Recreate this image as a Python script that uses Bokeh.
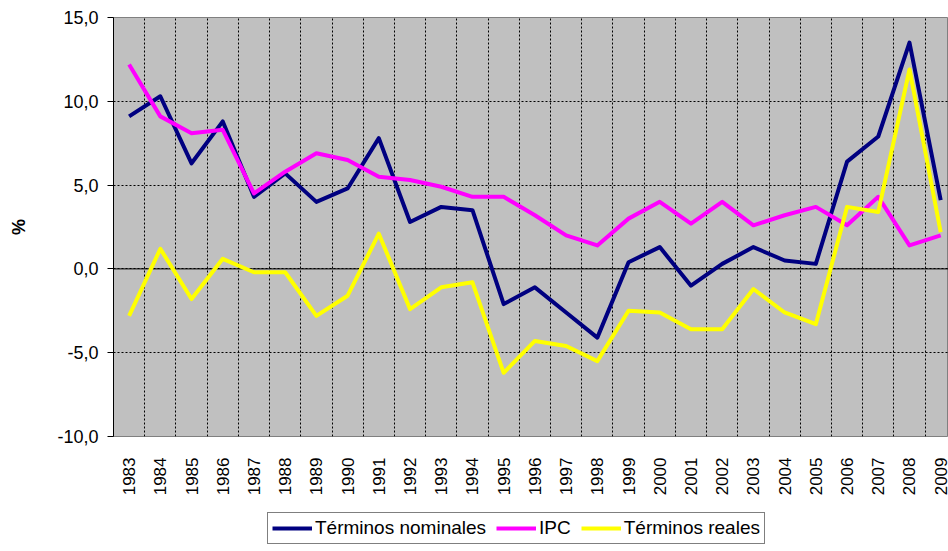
import math
from bokeh.plotting import figure
from bokeh.layouts import column
from bokeh.models import (Range1d, FixedTicker, Span, Legend, LegendItem)
from bokeh.embed import file_html
from bokeh.resources import INLINE

# ---- data ----
years = list(range(1983, 2010))
nominales = [9.1, 10.3, 6.3, 8.8, 4.3, 5.7, 4.0, 4.8, 7.8, 2.8, 3.7, 3.5, -2.1,
             -1.1, -2.6, -4.1, 0.4, 1.3, -1.0, 0.3, 1.3, 0.5, 0.3, 6.4, 7.9, 13.5, 4.1]
ipc = [12.2, 9.1, 8.1, 8.3, 4.5, 5.8, 6.9, 6.5, 5.5, 5.3, 4.9, 4.3, 4.3,
       3.2, 2.0, 1.4, 3.0, 4.0, 2.7, 4.0, 2.6, 3.2, 3.7, 2.6, 4.3, 1.4, 2.0]
reales = [-2.8, 1.2, -1.8, 0.6, -0.2, -0.2, -2.8, -1.6, 2.1, -2.4, -1.1, -0.8, -6.2,
          -4.3, -4.6, -5.5, -2.5, -2.6, -3.6, -3.6, -1.2, -2.6, -3.3, 3.7, 3.4, 11.9, 2.2]
series_names = ["Términos nominales", "IPC", "Términos reales"]
y_ticks = [-10, -5, 0, 5, 10, 15]
y_tick_labels = ["-10,0", "-5,0", "0,0", "5,0", "10,0", "15,0"]
y_title = "%"

FONT = "Liberation Sans"
colors = ["#000080", "#FF00FF", "#FFFF00"]
series = [nominales, ipc, reales]

xr = Range1d(years[0] - 0.5, years[0] - 0.5 + 26.75)
yr = Range1d(y_ticks[0], y_ticks[-1])

p = figure(width=948, height=506, output_backend="svg", toolbar_location=None,
           x_range=xr, y_range=yr,
           min_border_left=113, min_border_right=0, min_border_top=17,
           min_border_bottom=70)

p.background_fill_color = "#C0C0C0"
p.border_fill_color = "white"
p.outline_line_color = "#808080"
p.outline_line_width = 1

# grids
p.xgrid.ticker = FixedTicker(ticks=[y + 0.5 for y in years[:-1]])
p.xgrid.grid_line_color = "black"
p.xgrid.grid_line_dash = "2 2"
p.xgrid.grid_line_width = 1
p.ygrid.ticker = FixedTicker(ticks=y_ticks)
p.ygrid.grid_line_color = "black"
p.ygrid.grid_line_dash = "2 2"
p.ygrid.grid_line_width = 1

zero = Span(location=0, dimension="width", line_color="black", line_width=1,
            level="underlay")
p.add_layout(zero)

# y axis
yax = p.yaxis[0]
yax.ticker = FixedTicker(ticks=y_ticks)
yax.major_label_overrides = {t: l for t, l in zip(y_ticks, y_tick_labels)}
yax.axis_line_color = "black"
yax.major_tick_line_color = "black"
yax.major_tick_out = 6
yax.major_tick_in = 0
yax.minor_tick_line_color = None
yax.major_label_standoff = 9
yax.major_label_text_font = FONT
yax.major_label_text_font_size = "18px"
yax.major_label_text_color = "black"
yax.axis_label = y_title
yax.axis_label_text_font = FONT
yax.axis_label_text_font_size = "18px"
yax.axis_label_text_font_style = "bold"
yax.axis_label_text_color = "black"
yax.axis_label_standoff = 25

# x axis
xax = p.xaxis[0]
xax.ticker = FixedTicker(ticks=years)
xax.major_label_overrides = {y: str(y) for y in years}
xax.major_label_orientation = math.pi / 2
xax.axis_line_color = None
xax.major_tick_line_color = None
xax.minor_tick_line_color = None
xax.major_tick_out = 0
xax.major_tick_in = 0
xax.major_label_standoff = 21
xax.major_label_text_font = FONT
xax.major_label_text_font_size = "17px"
xax.major_label_text_color = "black"

for vals, c in zip(series, colors):
    p.line(years, vals, line_color=c, line_width=4, line_join="round")

# legend strip (separate figure below the chart)
p2 = figure(width=948, height=45, output_backend="svg", toolbar_location=None,
            x_range=xr, y_range=yr, x_axis_location=None, y_axis_location=None,
            min_border_left=0, min_border_right=0, min_border_top=0,
            min_border_bottom=0)
p2.grid.visible = False
p2.outline_line_color = None
p2.background_fill_color = "white"
p2.border_fill_color = "white"
leg_renderers = []
for vals, c in zip(series, colors):
    r = p2.line(years, vals, line_color=c, line_width=4, visible=False)
    leg_renderers.append(r)

legend = Legend(items=[LegendItem(label=n, renderers=[r]) for n, r in zip(series_names, leg_renderers)],
                orientation="horizontal", location=(154, 7), margin=0,
                padding=4, spacing=10, glyph_width=40, glyph_height=20,
                label_standoff=3, label_text_font=FONT, label_text_font_size="19px",
                label_text_color="black", border_line_color="black",
                border_line_width=1, background_fill_color="white",
                background_fill_alpha=1.0, inactive_fill_alpha=0.0)
p2.add_layout(legend, "center")

open("out.html", "w").write(file_html(column(p, p2, spacing=0), INLINE))
